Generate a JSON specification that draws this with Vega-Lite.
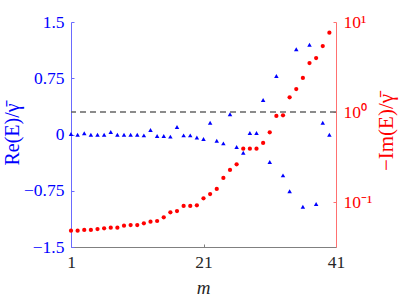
{
  "$schema": "https://vega.github.io/schema/vega-lite/v6.json",
  "width": 265,
  "height": 225,
  "autosize": "none",
  "padding": {"left": 71, "top": 22, "right": 63, "bottom": 52},
  "background": "white",
  "config": {"view": {"stroke": null}, "font": "Liberation Serif"},
  "datasets": {"pts": [
    {"m": 1, "re": 0.007, "im": 0.048},
    {"m": 2, "re": -0.003, "im": 0.048},
    {"m": 3, "re": 0.016, "im": 0.0489},
    {"m": 4, "re": -0.003, "im": 0.0489},
    {"m": 5, "re": -0.003, "im": 0.0501},
    {"m": 6, "re": -0.003, "im": 0.051},
    {"m": 7, "re": 0.033, "im": 0.0518},
    {"m": 8, "re": -0.003, "im": 0.0518},
    {"m": 9, "re": -0.003, "im": 0.0545},
    {"m": 10, "re": -0.003, "im": 0.0555},
    {"m": 11, "re": -0.003, "im": 0.0555},
    {"m": 12, "re": -0.011, "im": 0.058},
    {"m": 13, "re": 0.06, "im": 0.0604},
    {"m": 14, "re": -0.02, "im": 0.0615},
    {"m": 15, "re": -0.02, "im": 0.0676},
    {"m": 16, "re": -0.029, "im": 0.0768},
    {"m": 17, "re": 0.1, "im": 0.0794},
    {"m": 18, "re": -0.011, "im": 0.0903},
    {"m": 19, "re": -0.011, "im": 0.0903},
    {"m": 20, "re": -0.04, "im": 0.0919},
    {"m": 21, "re": -0.06, "im": 0.11},
    {"m": 22, "re": 0.157, "im": 0.1227},
    {"m": 23, "re": -0.083, "im": 0.1395},
    {"m": 24, "re": -0.118, "im": 0.185},
    {"m": 25, "re": 0.27, "im": 0.227},
    {"m": 26, "re": -0.167, "im": 0.262},
    {"m": 27, "re": -0.243, "im": 0.391},
    {"m": 28, "re": 0.02, "im": 0.391},
    {"m": 29, "re": 0.02, "im": 0.391},
    {"m": 30, "re": 0.46, "im": 0.453},
    {"m": 31, "re": -0.367, "im": 0.595},
    {"m": 32, "re": 0.78, "im": 0.903},
    {"m": 33, "re": -0.545, "im": 0.919},
    {"m": 34, "re": -0.757, "im": 1.456},
    {"m": 35, "re": 1.136, "im": 1.8},
    {"m": 36, "re": -0.963, "im": 2.39},
    {"m": 37, "re": 1.197, "im": 3.5},
    {"m": 38, "re": -0.927, "im": 3.98},
    {"m": 39, "re": 0.157, "im": 5.41},
    {"m": 40, "re": -0.003, "im": 7.6}
  ]},
  "layer": [
    {
      "data": {"name": "pts"},
      "mark": {"type": "point", "shape": "triangle-up", "filled": true, "size": 20, "color": "#0000ff", "opacity": 1},
      "encoding": {
        "x": {
          "field": "m", "type": "quantitative",
          "scale": {"domain": [1, 41], "nice": false, "zero": false},
          "axis": {
            "values": [1, 21, 41], "grid": false, "title": "m",
            "titleFontStyle": "italic", "titleFont": "Liberation Serif", "titleFontSize": 19, "titleFontWeight": "normal",
            "titleColor": "#262626", "titleX": 132, "titleY": 40, "titleBaseline": "middle", "titleAlign": "center",
            "labelFont": "Liberation Serif", "labelFontSize": 17.5, "labelColor": "#262626",
            "labelPadding": 9, "labelFlush": false,
            "domainColor": "#808080", "tickColor": "#808080", "tickSize": -3
          }
        },
        "y": {
          "field": "re", "type": "quantitative",
          "scale": {"domain": [-1.5, 1.5], "nice": false, "zero": false},
          "axis": {
            "orient": "left", "values": [-1.5, -0.75, 0, 0.75, 1.5], "grid": false,
            "labelExpr": "datum.value == 0 ? '0' : format(datum.value, '')",
            "title": "Re(E)/γ̄", "titleFont": "Liberation Serif", "titleFontSize": 20, "titleFontWeight": "normal",
            "titleColor": "#0000ff", "titleAngle": -90, "titleX": -59, "titleY": 112, "titleAlign": "center", "titleBaseline": "middle",
            "labelFont": "Liberation Serif", "labelFontSize": 17.5, "labelColor": "#0000ff", "labelPadding": 10,
            "domainColor": "#6a6aff", "tickColor": "#6a6aff", "tickSize": -3
          }
        }
      }
    },
    {
      "layer": [
        {
          "data": {"name": "pts"},
          "mark": {"type": "circle", "size": 18, "color": "#ff0000", "opacity": 1},
          "encoding": {
            "x": {"field": "m", "type": "quantitative"},
            "y": {
              "field": "im", "type": "quantitative",
              "scale": {"type": "log", "domain": [0.031623, 10], "nice": false},
              "axis": {
                "orient": "right", "values": [0.1, 1, 10], "grid": false,
                "labelExpr": "datum.value > 5 ? '10¹' : (datum.value > 0.5 ? '10⁰' : '10⁻¹')",
                "title": "−Im(E)/γ̄", "titleFont": "Liberation Serif", "titleFontSize": 21, "titleFontWeight": "normal",
                "titleColor": "#ff0000", "titleAngle": 270, "titleX": 50, "titleY": 110, "titleAlign": "center", "titleBaseline": "middle",
                "labelFont": "Liberation Serif", "labelFontSize": 17.5, "labelColor": "#ff0000", "labelPadding": 10,
                "domainColor": "#ff7070", "tickColor": "#ff7070", "tickSize": -3
              }
            }
          }
        },
        {
          "data": {"values": [{"v": 1}]},
          "mark": {"type": "rule", "color": "#666666", "strokeWidth": 1.5, "strokeDash": [6, 4]},
          "encoding": {"y": {"field": "v", "type": "quantitative"}}
        }
      ]
    }
  ],
  "resolve": {"scale": {"y": "independent"}}
}
